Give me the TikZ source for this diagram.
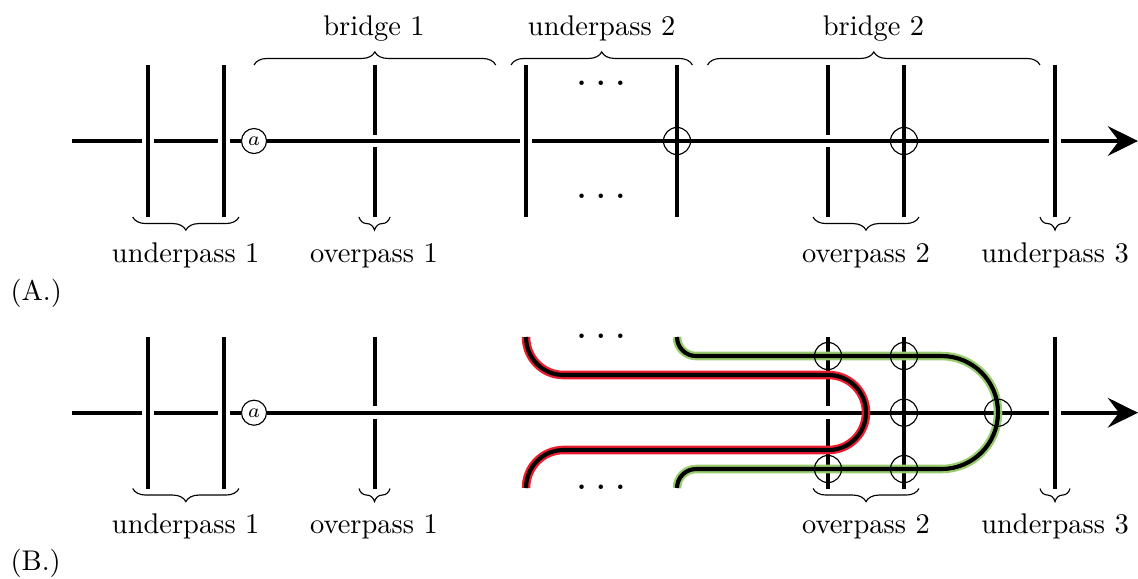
\documentclass[tikz,border=0pt]{standalone}
\usetikzlibrary{arrows.meta}
\usetikzlibrary{decorations.pathreplacing}
\pgfdeclarelayer{nodelayer}
\pgfdeclarelayer{edgelayer}
\pgfsetlayers{edgelayer,nodelayer,main}
\definecolor{redglow}{RGB}{237,28,46}
\definecolor{greenglow}{RGB}{153,204,110}
\tikzstyle{none}=[inner sep=-1pt]
\tikzset{wire/.style={line width=1.45pt, black}}
\tikzset{arrowwire/.style={wire, -{Stealth[length=10.6pt, width=10.4pt, inset=3.9pt]}}}
\tikzset{redstrand/.style={preaction={draw, redglow, line width=3pt}, line width=1.45pt, black}}
\tikzset{greenstrand/.style={preaction={draw, greenglow, line width=3pt}, line width=1.45pt, black}}
\tikzset{cbrace/.style={decorate, decoration={brace, amplitude=4.6pt}, line width=.4pt}}
\tikzset{tag/.style={anchor=base, inner sep=0pt}}
\tikzset{marked/.style={shape=circle, draw, line width=.4pt, inner sep=0pt, minimum size=9.5pt}}
\tikzset{basepoint/.style={shape=circle, draw, fill=white, line width=.4pt, inner sep=0pt, minimum size=8.8pt, font=\scriptsize}}
\newcommand{\dotrow}{\textbf{.}\hspace{3.6pt}\textbf{.}\hspace{3.6pt}\textbf{.}}
\begin{document}
\begin{tikzpicture}[x=0.3514pt, y=0.3514pt]
        \useasboundingbox (0, 0) rectangle (1138, -578);
        \begin{pgfonlayer}{nodelayer}
            % panel A, main line
            \node [style=none] (a1) at (72, -141) {};
            \node [style=none] (a2) at (142, -141) {};
            \node [style=none] (a3) at (154, -141) {};
            \node [style=none] (a4) at (217.5, -141) {};
            \node [style=none] (a5) at (230, -141) {};
            \node [style=basepoint] (a) at (254, -141) {$a$};
            \node [style=none] (a6) at (520, -141) {};
            \node [style=none] (a7) at (532, -141) {};
            \node [style=none] (a8) at (1049, -141) {};
            \node [style=none] (a9) at (1061, -141) {};
            \node [style=none] (a10) at (1138, -141) {};
            % panel A, verticals
            \node [style=none] (a11) at (148, -65) {};
            \node [style=none] (a12) at (148, -217) {};
            \node [style=none] (a13) at (223.7, -65) {};
            \node [style=none] (a14) at (223.7, -217) {};
            \node [style=none] (a15) at (375, -65) {};
            \node [style=none] (a16) at (375, -134.5) {};
            \node [style=none] (a17) at (375, -147) {};
            \node [style=none] (a18) at (375, -217) {};
            \node [style=none] (a19) at (526, -65) {};
            \node [style=none] (a20) at (526, -217) {};
            \node [style=none] (a21) at (677, -65) {};
            \node [style=none] (a22) at (677, -217) {};
            \node [style=none] (a23) at (828, -65) {};
            \node [style=none] (a24) at (828, -134.5) {};
            \node [style=none] (a25) at (828, -147) {};
            \node [style=none] (a26) at (828, -217) {};
            \node [style=none] (a27) at (904, -65) {};
            \node [style=none] (a28) at (904, -217) {};
            \node [style=none] (a29) at (1055, -65) {};
            \node [style=none] (a30) at (1055, -217) {};
            \node [style=marked] (a31) at (677, -141) {};
            \node [style=marked] (a32) at (904, -141) {};
            % panel A, braces
            \node [style=none] (c1) at (254, -65) {};
            \node [style=none] (c2) at (495.7, -65) {};
            \node [style=none] (c3) at (511, -65) {};
            \node [style=none] (c4) at (692.4, -65) {};
            \node [style=none] (c5) at (707.5, -65) {};
            \node [style=none] (c6) at (1040, -65) {};
            \node [style=none] (c7) at (239, -217) {};
            \node [style=none] (c8) at (132.7, -217) {};
            \node [style=none] (c9) at (390, -217) {};
            \node [style=none] (c10) at (359, -217) {};
            \node [style=none] (c11) at (919, -217) {};
            \node [style=none] (c12) at (813, -217) {};
            \node [style=none] (c13) at (1070, -217) {};
            \node [style=none] (c14) at (1040, -217) {};
            % panel A, texts
            \node [style=tag] (t1) at (374, -35) {bridge 1};
            \node [style=tag] (t2) at (601.7, -35) {underpass 2};
            \node [style=tag] (t3) at (873.5, -35) {bridge 2};
            \node [style=tag] (t4) at (185.7, -262) {underpass 1};
            \node [style=tag] (t5) at (374, -262) {overpass 1};
            \node [style=tag] (t6) at (866, -262) {overpass 2};
            \node [style=tag] (t7) at (1055, -262) {underpass 3};
            \node [style=tag] (t8) at (601, -85) {\dotrow};
            \node [style=tag] (t9) at (601, -198) {\dotrow};
            \node [style=tag, anchor=base west] (t10) at (10, -300.5) {(A.)};
            % panel B, main line
            \node [style=none] (b1) at (72, -412.7) {};
            \node [style=none] (b2) at (142, -412.7) {};
            \node [style=none] (b3) at (154, -412.7) {};
            \node [style=none] (b4) at (217.5, -412.7) {};
            \node [style=none] (b5) at (230, -412.7) {};
            \node [style=basepoint] (b) at (254, -412.7) {$a$};
            \node [style=none] (b8) at (1049, -412.7) {};
            \node [style=none] (b9) at (1061, -412.7) {};
            \node [style=none] (b10) at (1138, -412.7) {};
            % panel B, verticals
            \node [style=none] (b11) at (148, -337) {};
            \node [style=none] (b12) at (148, -488.5) {};
            \node [style=none] (b13) at (223.7, -337) {};
            \node [style=none] (b14) at (223.7, -488.5) {};
            \node [style=none] (b15) at (375, -337) {};
            \node [style=none] (b16) at (375, -406.2) {};
            \node [style=none] (b17) at (375, -418.7) {};
            \node [style=none] (b18) at (375, -488.5) {};
            \node [style=none] (b23) at (828, -337) {};
            \node [style=none] (b24) at (828, -406.2) {};
            \node [style=none] (b25) at (828, -418.7) {};
            \node [style=none] (b26) at (828, -488.5) {};
            \node [style=none] (b27) at (904, -337) {};
            \node [style=none] (b28) at (904, -488.5) {};
            \node [style=none] (b29) at (1055, -337) {};
            \node [style=none] (b30) at (1055, -488.5) {};
            % panel B, strands
            \node [style=none] (r1) at (526, -337) {};
            \node [style=none] (r2) at (563.5, -375) {};
            \node [style=none] (r3) at (828.5, -375) {};
            \node [style=none] (r4) at (866, -412.5) {};
            \node [style=none] (r5) at (828.5, -450) {};
            \node [style=none] (r6) at (563.5, -450) {};
            \node [style=none] (r7) at (526, -488) {};
            \node [style=none] (g1) at (677, -337) {};
            \node [style=none] (g2) at (696, -356) {};
            \node [style=none] (g3) at (941.4, -356) {};
            \node [style=none] (g4) at (998, -412.5) {};
            \node [style=none] (g5) at (941.4, -469) {};
            \node [style=none] (g6) at (696, -469) {};
            \node [style=none] (g7) at (677, -488) {};
            \node [style=marked] (m1) at (828, -356) {};
            \node [style=marked] (m2) at (904, -356) {};
            \node [style=marked] (m3) at (904, -412.7) {};
            \node [style=marked] (m4) at (998, -412.7) {};
            \node [style=marked] (m5) at (828, -469) {};
            \node [style=marked] (m6) at (904, -469) {};
            % panel B, braces
            \node [style=none] (d7) at (239, -488.5) {};
            \node [style=none] (d8) at (132.7, -488.5) {};
            \node [style=none] (d9) at (390, -488.5) {};
            \node [style=none] (d10) at (359, -488.5) {};
            \node [style=none] (d11) at (919, -488.5) {};
            \node [style=none] (d12) at (813, -488.5) {};
            \node [style=none] (d13) at (1070, -488.5) {};
            \node [style=none] (d14) at (1040, -488.5) {};
            % panel B, texts
            \node [style=tag] (t11) at (185.7, -533.5) {underpass 1};
            \node [style=tag] (t12) at (374, -533.5) {overpass 1};
            \node [style=tag] (t13) at (866, -533.5) {overpass 2};
            \node [style=tag] (t14) at (1055, -533.5) {underpass 3};
            \node [style=tag] (t15) at (601, -338) {\dotrow};
            \node [style=tag] (t16) at (601, -489) {\dotrow};
            \node [style=tag, anchor=base west] (t17) at (10, -570) {(B.)};
        \end{pgfonlayer}
        \begin{pgfonlayer}{edgelayer}
            \draw [wire] (a1.center) to (a2.center);
            \draw [wire] (a3.center) to (a4.center);
            \draw [wire] (a5.center) to (a);
            \draw [wire] (a) to (a6.center);
            \draw [wire] (a7.center) to (a8.center);
            \draw [arrowwire] (a9.center) to (a10.center);
            \draw [wire] (a11.center) to (a12.center);
            \draw [wire] (a13.center) to (a14.center);
            \draw [wire] (a15.center) to (a16.center);
            \draw [wire] (a17.center) to (a18.center);
            \draw [wire] (a19.center) to (a20.center);
            \draw [wire] (a21.center) to (a22.center);
            \draw [wire] (a23.center) to (a24.center);
            \draw [wire] (a25.center) to (a26.center);
            \draw [wire] (a27.center) to (a28.center);
            \draw [wire] (a29.center) to (a30.center);
            \draw [cbrace] (c1.center) to (c2.center);
            \draw [cbrace] (c3.center) to (c4.center);
            \draw [cbrace] (c5.center) to (c6.center);
            \draw [cbrace] (c7.center) to (c8.center);
            \draw [cbrace] (c9.center) to (c10.center);
            \draw [cbrace] (c11.center) to (c12.center);
            \draw [cbrace] (c13.center) to (c14.center);
            \draw [wire] (b1.center) to (b2.center);
            \draw [wire] (b3.center) to (b4.center);
            \draw [wire] (b5.center) to (b);
            \draw [wire] (b) to (b8.center);
            \draw [arrowwire] (b9.center) to (b10.center);
            \draw [wire] (b11.center) to (b12.center);
            \draw [wire] (b13.center) to (b14.center);
            \draw [wire] (b15.center) to (b16.center);
            \draw [wire] (b17.center) to (b18.center);
            \draw [wire] (b23.center) to (b24.center);
            \draw [wire] (b25.center) to (b26.center);
            \draw [wire] (b27.center) to (b28.center);
            \draw [wire] (b29.center) to (b30.center);
            \draw [redstrand] (r1.center) to [out=-90, in=180] (r2.center) to (r3.center) to [out=0, in=90] (r4.center) to [out=-90, in=0] (r5.center) to (r6.center) to [out=180, in=90] (r7.center);
            \draw [greenstrand] (g1.center) to [out=-90, in=180] (g2.center) to (g3.center) to [out=0, in=90] (g4.center) to [out=-90, in=0] (g5.center) to (g6.center) to [out=180, in=90] (g7.center);
            \draw [cbrace] (d7.center) to (d8.center);
            \draw [cbrace] (d9.center) to (d10.center);
            \draw [cbrace] (d11.center) to (d12.center);
            \draw [cbrace] (d13.center) to (d14.center);
        \end{pgfonlayer}
    \end{tikzpicture}
\end{document}
